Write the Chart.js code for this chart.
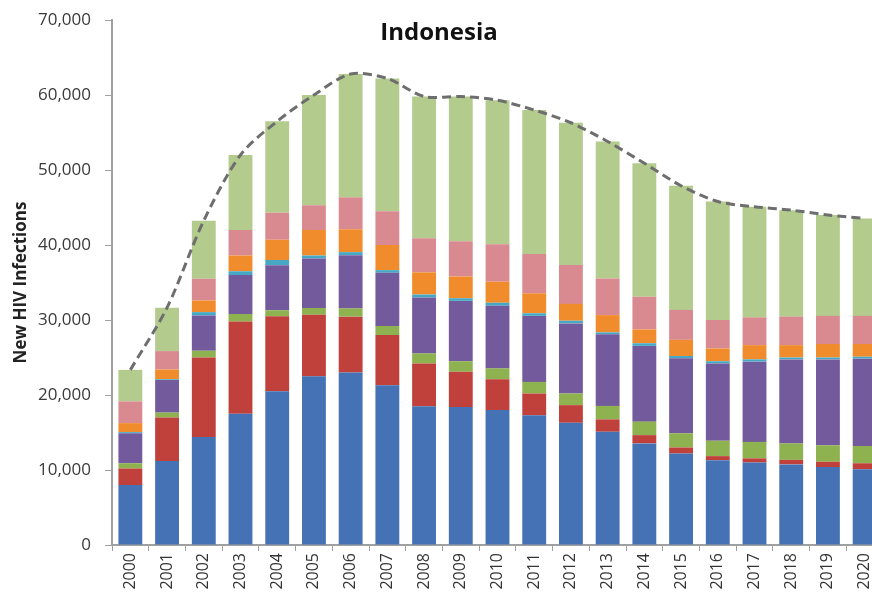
<!DOCTYPE html>
<html>
<head>
<meta charset="utf-8">
<script src="https://cdn.jsdelivr.net/npm/chart.js@4"></script>
<style>
  html, body { margin: 0; padding: 0; background: #fff; overflow: hidden; }
  #wrap { width: 872px; height: 600px; overflow: hidden; }
</style>
</head>
<body>
<div id="wrap"><canvas id="chart" width="895" height="600"></canvas></div>
<script>
const years = ['2000','2001','2002','2003','2004','2005','2006','2007','2008','2009','2010',
               '2011','2012','2013','2014','2015','2016','2017','2018','2019','2020'];

// stacked segments, bottom to top
const blueSeg   = [8000, 11200, 14400, 17500, 20500, 22500, 23000, 21300, 18500, 18400, 18000, 17300, 16300, 15100, 13550, 12200, 11300, 11000, 10750, 10400, 10100];
const redSeg    = [2200, 5800, 10600, 12300, 10000, 8200, 7450, 6700, 5700, 4700, 4100, 2900, 2350, 1650, 1100, 800, 550, 550, 600, 700, 800];
const greenSeg  = [700, 650, 900, 1000, 800, 900, 1100, 1200, 1350, 1400, 1450, 1550, 1550, 1800, 1800, 1900, 2050, 2200, 2200, 2200, 2300];
const purpleSeg = [4000, 4350, 4700, 5200, 6000, 6600, 7100, 7100, 7450, 8050, 8350, 8800, 9350, 9550, 10100, 10000, 10300, 10700, 11200, 11450, 11650];
const cyanSeg   = [150, 100, 450, 500, 700, 400, 400, 350, 400, 350, 400, 350, 350, 250, 350, 300, 300, 300, 250, 250, 250];
const orangeSeg = [1200, 1300, 1550, 2100, 2700, 3400, 3050, 3350, 2950, 2900, 2800, 2650, 2250, 2300, 1850, 2150, 1700, 1900, 1650, 1800, 1700];
const pinkSeg   = [2900, 2450, 2900, 3400, 3600, 3300, 4250, 4500, 4550, 4700, 5000, 5250, 5200, 4900, 4350, 4000, 3800, 3700, 3800, 3750, 3750];
const lgreenSeg = [4200, 5800, 7750, 10000, 12200, 14700, 16450, 17700, 18900, 19300, 19200, 19200, 18950, 18250, 17800, 16550, 15800, 14750, 14200, 13450, 13000];

const yTicks = [0, 10000, 20000, 30000, 40000, 50000, 60000, 70000];

const segments = [blueSeg, redSeg, greenSeg, purpleSeg, cyanSeg, orangeSeg, pinkSeg, lgreenSeg];
const segColors = ['#4472b4', '#c0403c', '#8db24f', '#735a9c', '#46a8c4', '#f08c2c', '#d98a90', '#b3cc8e'];

// total of each year = top of the stack
const totals = years.map((y, i) => segments.reduce((s, arr) => s + arr[i], 0));

const FONT = "'Open Sans', 'Liberation Sans', sans-serif";

const titlePlugin = {
  id: 'plotTitle',
  afterDraw(chart) {
    const ctx = chart.ctx;
    ctx.save();
    ctx.font = "bold 24px " + FONT;
    ctx.fillStyle = '#111';
    ctx.textAlign = 'center';
    ctx.textBaseline = 'middle';
    ctx.fillText('Indonesia', 439, 33);
    ctx.restore();
  }
};

const datasets = [{
  type: 'line',
  label: 'Total',
  data: totals,
  stack: 'total',
  borderColor: '#6e6e6e',
  borderWidth: 3,
  borderDash: [9, 5],
  pointRadius: 0,
  tension: 0.3,
  fill: false,
  order: 0
}];
segments.forEach((arr, k) => {
  datasets.push({
    type: 'bar',
    label: 'seg' + k,
    data: arr,
    backgroundColor: segColors[k],
    borderWidth: 0,
    stack: 'bars',
    barPercentage: 0.65,
    categoryPercentage: 1,
    order: 1
  });
});

new Chart(document.getElementById('chart'), {
  type: 'bar',
  data: { labels: years, datasets: datasets },
  options: {
    responsive: false,
    animation: false,
    devicePixelRatio: 1,
    layout: { padding: { top: 20, right: 12, bottom: 0, left: 0 } },
    plugins: {
      legend: { display: false },
      tooltip: { enabled: false }
    },
    scales: {
      x: {
        stacked: true,
        grid: { display: true, drawOnChartArea: false, offset: true, tickLength: 6, color: '#a0a0a0', lineWidth: 1 },
        border: { color: '#a0a0a0', width: 2 },
        ticks: {
          minRotation: 90, maxRotation: 90, autoSkip: false,
          color: '#333', padding: 2,
          font: { family: FONT, size: 16 }
        },
        afterFit(scale) { scale.height = 55; }
      },
      y: {
        stacked: true,
        min: 0, max: 70000,
        afterBuildTicks(scale) { scale.ticks = yTicks.map(v => ({ value: v })); },
        grid: { display: true, drawOnChartArea: false, tickLength: 7, color: '#a0a0a0', lineWidth: 1 },
        border: { color: '#a0a0a0', width: 2 },
        ticks: {
          color: '#3a3a3a', padding: 14,
          font: { family: FONT, size: 17 },
          callback: v => v.toLocaleString('en-US')
        },
        title: {
          display: true,
          text: 'New HIV Infections',
          color: '#222',
          font: { family: FONT, size: 17, weight: 'bold' },
          padding: { top: 11, bottom: 0 }
        },
        afterFit(scale) {
          scale.width = 112;
          scale.paddingTop = 8;
        }
      }
    }
  },
  plugins: [titlePlugin]
});
</script>
</body>
</html>
